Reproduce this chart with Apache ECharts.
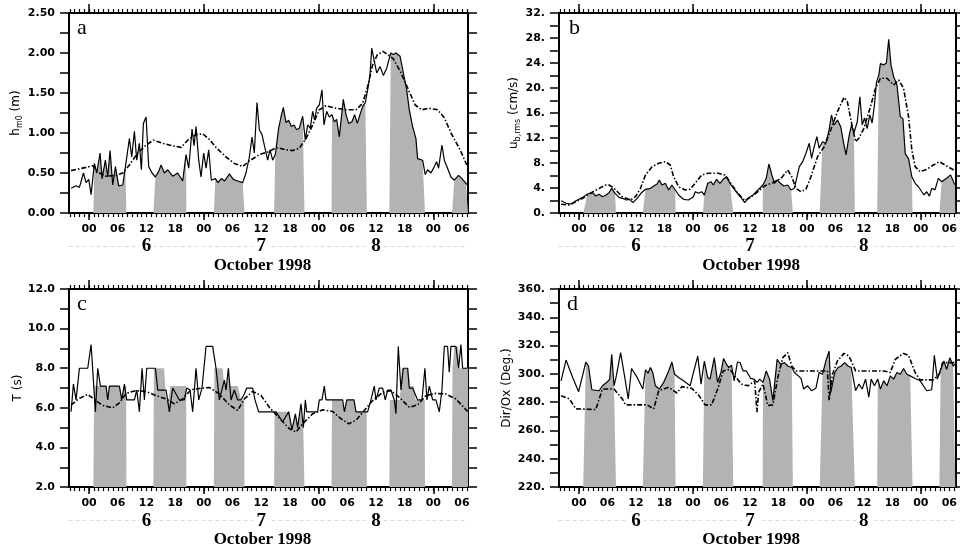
<!DOCTYPE html>
<html>
<head>
<meta charset="utf-8">
<script src="https://cdn.jsdelivr.net/npm/echarts@6.0.0/dist/echarts.min.js"></script>
<style>
  html, body { margin: 0; padding: 0; background: #fff; }
  #chart { width: 960px; height: 549px; }
</style>
</head>
<body>
<div id="chart"></div>
<script>
// time in hours from 6 Oct 1998 00:00
var hourTicks = [];
for (var t = -4; t <= 79; t++) hourTicks.push(t);
var sixHourTicks = [0, 6, 12, 18, 24, 30, 36, 42, 48, 54, 60, 66, 72, 78];
var dayTicks = [0, 24, 48, 72];
var noonTicks = [12, 36, 60];
var dayNames = { 12: '6', 36: '7', 60: '8' };

// periods shaded grey
var windows = [[0.9, 7.8], [13.45, 20.35], [26.1, 32.5], [38.7, 45.05], [50.7, 58.1], [62.8, 70.25], [75.9, 79.25]];

// a: hm0 (m)
var aSolid = [[-3.76,0.31],[-2.72,0.34],[-2.02,0.32],[-1.18,0.50],[-0.63,0.38],[-0.07,0.42],[0.42,0.23],[1.11,0.62],[1.60,0.50],[2.30,0.75],[2.72,0.43],[3.41,0.66],[3.90,0.45],[4.39,0.78],[4.95,0.35],[5.51,0.58],[6.20,0.34],[7.04,0.35],[7.60,0.58],[8.43,0.93],[8.92,0.70],[9.48,1.02],[9.97,0.66],[10.52,0.87],[10.94,0.54],[11.36,1.12],[11.92,1.20],[12.47,0.58],[13.17,0.50],[13.87,0.45],[14.56,0.52],[15.05,0.60],[15.75,0.50],[16.45,0.54],[17.49,0.46],[18.54,0.50],[19.58,0.40],[20.28,0.73],[20.84,0.56],[21.53,1.05],[21.95,0.84],[22.37,1.08],[22.93,0.66],[23.41,0.45],[23.97,0.75],[24.46,0.56],[25.02,0.79],[25.57,0.41],[26.41,0.43],[26.97,0.38],[27.67,0.43],[28.36,0.40],[29.34,0.49],[30.17,0.42],[31.08,0.40],[32.13,0.38],[32.82,0.50],[33.52,0.70],[34.08,0.95],[34.56,0.75],[35.12,1.38],[35.61,1.04],[36.17,0.98],[36.72,0.83],[37.35,0.66],[37.84,0.79],[38.40,0.66],[38.95,0.73],[39.65,1.06],[40.14,1.20],[40.63,1.32],[41.18,1.13],[41.74,1.16],[42.30,1.08],[42.86,1.10],[43.41,1.04],[43.97,1.06],[44.67,1.21],[45.23,0.91],[45.71,1.10],[46.27,1.06],[46.76,1.27],[47.18,1.16],[47.60,1.31],[48.15,1.35],[48.71,1.54],[49.13,1.10],[49.69,1.27],[50.24,1.20],[50.80,1.23],[51.29,1.14],[51.78,1.17],[52.33,0.95],[53.17,1.42],[53.73,1.23],[54.29,1.12],[54.98,1.14],[55.54,1.23],[56.10,1.12],[56.66,1.23],[57.21,1.33],[57.77,1.38],[58.26,1.54],[58.75,1.72],[59.11,2.06],[60.16,1.75],[60.85,1.83],[61.55,1.72],[62.25,1.81],[63.09,2.00],[63.64,1.98],[64.20,2.00],[65.04,1.96],[65.73,1.75],[66.43,1.54],[66.97,1.29],[67.67,1.08],[68.36,0.93],[68.71,0.68],[69.76,0.66],[70.31,0.48],[70.80,0.54],[71.50,0.50],[72.20,0.58],[72.68,0.64],[73.10,0.56],[73.80,0.85],[74.29,0.66],[74.77,0.59],[75.68,0.45],[76.38,0.41],[77.28,0.47],[77.98,0.43],[78.82,0.37],[79.16,0.35]];
var aDash = [[-3.76,0.53],[-0.63,0.57],[0.77,0.59],[2.16,0.50],[3.55,0.46],[5.64,0.47],[7.04,0.50],[8.43,0.60],[10.17,0.75],[11.92,0.85],[13.45,0.91],[15.40,0.87],[17.49,0.84],[19.23,0.82],[20.63,0.91],[22.37,0.98],[23.76,0.99],[25.16,0.92],[26.55,0.82],[28.64,0.70],[30.38,0.62],[32.13,0.58],[33.52,0.65],[35.61,0.73],[37.70,0.77],[39.23,0.82],[41.18,0.79],[42.58,0.78],[43.97,0.81],[45.37,0.93],[46.76,1.10],[48.15,1.29],[49.55,1.34],[51.64,1.31],[53.73,1.29],[55.82,1.29],[57.21,1.37],[58.26,1.58],[59.30,1.85],[60.30,1.98],[61.50,2.02],[63.60,1.93],[65.00,1.78],[66.80,1.54],[68.20,1.35],[69.60,1.29],[71.00,1.31],[72.90,1.29],[74.30,1.19],[75.70,1.00],[77.60,0.79],[79.00,0.60]];

// b: ub,rms (cm/s)
var bSolid = [[-3.76,1.97],[-2.72,1.55],[-1.67,1.44],[-0.63,1.97],[0.77,2.5],[1.81,3.04],[2.86,3.25],[3.55,2.72],[4.25,2.99],[4.95,2.61],[5.64,2.83],[6.34,3.25],[6.90,3.95],[7.60,3.15],[8.43,2.5],[9.13,2.35],[9.97,2.08],[10.66,2.19],[11.36,1.65],[12.26,2.35],[13.17,3.25],[14.01,3.79],[15.05,3.95],[15.75,4.32],[16.45,4.64],[16.93,5.28],[17.49,4.48],[18.19,4.75],[18.89,3.68],[19.58,4.48],[20.28,3.68],[20.98,2.88],[22.02,2.19],[23.07,2.08],[24.11,2.61],[24.46,3.41],[25.16,3.15],[25.85,3.41],[26.41,2.88],[27.11,4.75],[27.80,5.01],[28.29,4.48],[28.99,5.39],[29.69,4.75],[30.38,5.39],[31.08,5.81],[31.78,4.75],[32.82,3.68],[33.87,2.72],[34.91,1.65],[35.61,2.35],[36.66,2.88],[37.70,3.68],[38.75,4.48],[39.44,5.55],[40.00,7.84],[40.63,6.08],[41.18,4.75],[41.74,5.28],[42.44,4.75],[43.14,4.32],[43.97,4.48],[44.67,3.68],[45.37,3.95],[45.92,5.81],[46.41,7.41],[47.11,8.21],[47.80,9.55],[48.50,11.15],[48.99,8.75],[49.55,10.61],[50.10,12.21],[50.59,10.35],[51.29,11.41],[51.99,11.15],[52.68,13.28],[53.17,15.68],[53.73,14.08],[54.43,14.88],[55.12,13.81],[55.68,11.41],[56.24,9.3],[56.93,12.5],[57.42,14.1],[57.91,12.8],[58.61,14.6],[59.16,18.6],[59.65,14.1],[60.14,15.2],[60.70,13.5],[61.25,15.7],[61.74,14.4],[62.23,17.3],[62.65,20.9],[63.14,22.0],[63.48,23.9],[64.18,23.7],[64.74,24.0],[65.23,27.8],[65.71,23.7],[66.27,21.8],[66.97,20.5],[67.67,15.4],[68.22,15.1],[68.71,9.5],[69.41,8.7],[70.10,5.8],[70.80,4.75],[71.50,4.2],[72.20,3.4],[72.68,2.9],[73.24,3.4],[73.80,2.7],[74.29,3.95],[74.98,3.7],[75.68,5.55],[76.38,5.0],[77.42,5.55],[78.26,6.1],[79.16,4.5]];
var bDash = [[-3.76,1.39],[-2.02,1.28],[-0.63,1.81],[0.77,2.35],[2.16,3.04],[3.90,3.79],[5.64,4.48],[6.34,4.48],[7.39,3.95],[9.13,2.61],[10.87,2.08],[11.92,2.61],[12.96,3.95],[14.01,6.08],[15.40,7.41],[16.79,7.95],[18.19,8.21],[19.23,7.68],[19.93,5.81],[20.98,4.21],[22.37,3.68],[23.41,3.79],[24.46,4.75],[25.85,6.08],[27.25,6.35],[29.34,6.35],[30.73,6.08],[31.78,5.01],[33.17,3.41],[34.91,1.97],[36.31,2.61],[37.70,3.41],[39.09,4.32],[40.84,4.85],[42.58,5.55],[43.97,6.88],[44.81,5.81],[45.71,3.95],[46.76,3.41],[47.80,3.79],[48.85,5.81],[50.24,9.01],[51.64,10.61],[53.03,13.28],[54.43,16.21],[55.82,18.51],[56.52,17.81],[57.56,13.81],[58.26,11.41],[58.95,11.95],[60.00,13.55],[61.39,17.01],[62.44,19.95],[63.48,21.55],[64.88,21.55],[66.27,20.48],[67.32,21.28],[68.36,19.95],[69.41,15.41],[70.10,10.08],[70.80,7.41],[71.85,6.61],[73.24,6.99],[74.63,7.68],[75.89,8.21],[77.07,7.68],[79.16,6.77]];

// c: T (s)
var cSolid = [[-3.76,5.8],[-3.28,7.2],[-2.72,6.4],[-2.02,8.0],[-0.28,8.0],[0.42,9.2],[1.32,5.8],[1.81,8.0],[2.37,7.1],[3.55,7.1],[3.90,6.4],[4.25,7.1],[6.34,7.1],[6.83,6.4],[7.39,7.2],[7.87,6.4],[9.48,6.4],[9.97,6.9],[10.52,5.8],[11.08,8.0],[11.57,6.4],[12.06,8.0],[13.87,8.0],[14.36,6.9],[16.10,6.9],[16.79,5.8],[17.49,7.0],[18.89,6.4],[19.93,6.4],[20.42,7.0],[21.11,6.9],[21.67,5.8],[22.37,8.0],[22.93,6.4],[23.62,7.0],[24.46,9.1],[25.85,9.1],[26.55,8.0],[27.25,6.4],[28.29,7.4],[28.64,6.9],[29.13,8.0],[29.69,6.4],[30.38,6.9],[31.08,6.4],[31.78,6.4],[32.47,6.7],[32.96,7.0],[34.22,7.0],[34.70,6.4],[35.47,5.8],[39.09,5.8],[40.49,5.3],[41.74,5.8],[42.44,4.9],[43.14,5.7],[43.62,5.0],[44.32,6.2],[44.81,5.0],[45.23,6.4],[45.51,5.8],[47.80,5.8],[48.15,6.4],[48.71,6.4],[49.20,7.1],[49.55,6.4],[53.03,6.4],[53.40,5.8],[53.90,6.4],[55.40,6.4],[55.82,5.8],[58.26,5.8],[58.95,6.4],[59.65,7.1],[60.00,6.4],[60.70,7.0],[61.39,7.0],[61.95,6.4],[62.44,6.9],[63.14,6.9],[63.83,6.4],[64.18,5.7],[64.67,9.1],[65.23,6.9],[65.71,8.0],[66.62,8.0],[66.97,7.0],[67.67,7.0],[68.71,6.4],[69.62,6.4],[70.24,8.0],[70.66,6.4],[71.15,7.1],[71.85,6.4],[72.54,6.4],[73.24,5.8],[73.80,6.9],[74.29,9.1],[74.98,9.1],[75.33,7.8],[75.68,9.1],[76.73,9.1],[77.28,8.0],[77.77,9.2],[78.12,8.0],[79.16,8.0]];
var cDash = [[-3.76,6.15],[-2.02,6.48],[-0.28,6.68],[1.11,6.42],[2.86,6.12],[4.95,6.0],[6.34,6.25],[7.74,6.73],[9.83,6.87],[11.92,6.83],[14.01,6.62],[16.10,6.45],[17.84,6.2],[19.58,6.45],[21.32,6.92],[23.07,6.98],[25.16,7.03],[27.25,6.7],[29.34,6.15],[31.08,5.87],[32.47,6.45],[34.22,6.83],[35.96,6.62],[37.70,6.03],[39.79,5.48],[41.88,4.95],[43.28,4.78],[44.67,5.2],[46.76,5.7],[48.85,5.9],[50.94,5.82],[52.68,5.45],[54.29,5.2],[55.82,5.37],[57.56,5.87],[59.30,6.37],[61.39,6.78],[63.14,6.87],[64.88,6.53],[66.97,6.03],[68.71,6.15],[70.45,6.62],[72.54,6.73],[74.63,6.7],[76.73,6.45],[79.16,5.82]];
var cGray = [[0.9,2],[1.05,7.1],[3.55,7.1],[3.9,6.4],[4.25,7.1],[6.34,7.1],[6.83,6.4],[7.3,7.1],[7.75,7.1],[7.8,2],
  [13.45,2],[13.55,8.0],[15.7,8.0],[16.1,6.4],[16.6,6.4],[17.0,7.1],[19.6,7.1],[20.3,7.1],[20.35,2],
  [26.1,2],[26.2,8.0],[27.9,8.0],[28.3,7.1],[28.8,7.1],[29.1,8.0],[29.4,7.1],[31.1,7.1],[31.8,6.4],[32.45,6.4],[32.5,2],
  [38.7,2],[38.8,5.8],[42.0,5.8],[42.4,4.9],[43.1,5.7],[43.6,5.0],[44.3,5.8],[44.8,5.0],[45.0,5.0],[45.05,2],
  [50.7,2],[50.8,6.4],[52.8,6.4],[53.4,5.8],[53.9,6.4],[55.4,6.4],[55.9,5.8],[58.05,5.8],[58.1,2],
  [62.8,2],[62.9,6.4],[65.0,6.4],[65.4,8.0],[66.8,8.0],[67.1,7.1],[67.9,7.1],[68.3,6.4],[70.2,6.4],[70.25,2],
  [75.9,2],[76.0,8.0],[76.4,9.1],[77.2,9.1],[77.4,8.0],[79.25,8.0]];

// d: Dir/Ox (Deg.)
var dSolid = [[-3.76,295.1],[-2.72,309.8],[-1.32,297.5],[-0.07,287.4],[1.46,308.4],[2.02,305.6],[2.72,288.8],[4.25,288.1],[4.95,291.6],[5.99,294.4],[6.48,296.3],[6.90,313.8],[7.39,291.6],[7.87,298.6],[8.78,315.0],[9.48,301.0],[10.38,282.3],[11.08,303.8],[12.26,297.5],[13.45,289.3],[14.01,302.8],[14.56,300.5],[15.05,304.5],[15.54,301.0],[16.10,291.6],[16.93,289.3],[17.84,294.0],[18.89,302.1],[19.58,308.4],[20.14,299.8],[20.98,297.5],[22.02,295.1],[23.41,291.6],[24.11,301.0],[25.02,312.6],[25.71,292.8],[26.41,309.1],[27.11,297.5],[27.60,296.3],[28.50,311.5],[29.20,294.0],[29.90,301.0],[30.45,310.8],[31.08,306.8],[31.57,304.5],[32.13,306.1],[32.68,295.1],[33.38,308.4],[33.94,308.0],[34.56,302.1],[35.26,302.1],[36.17,296.8],[36.86,296.3],[37.56,294.0],[38.05,296.3],[38.75,294.0],[39.44,302.1],[40.14,296.3],[40.84,281.1],[41.74,310.3],[42.44,306.8],[43.28,308.0],[43.97,305.6],[44.81,304.5],[45.37,301.0],[46.20,298.6],[46.76,296.8],[47.32,289.3],[48.15,291.6],[48.99,288.1],[49.90,289.8],[50.59,301.0],[51.29,299.8],[51.99,309.1],[52.68,316.1],[53.03,287.0],[53.87,301.0],[54.56,304.5],[55.26,305.6],[55.96,308.0],[56.66,305.6],[57.35,304.5],[58.26,288.1],[58.95,292.8],[59.65,289.3],[60.35,296.3],[61.04,283.5],[61.53,296.3],[62.23,291.6],[62.93,296.3],[63.48,289.3],[64.18,295.1],[64.88,291.6],[65.57,298.6],[66.27,296.3],[66.97,301.0],[67.67,299.8],[68.36,303.8],[69.06,299.8],[69.76,298.6],[70.80,296.8],[71.85,295.1],[73.24,288.1],[74.29,288.8],[74.84,313.1],[75.47,296.3],[76.17,303.3],[76.86,309.1],[77.42,303.3],[78.12,311.5],[78.82,305.6],[79.16,306.8]];
var dDash = [[-3.76,284.6],[-2.02,282.3],[-0.63,275.3],[3.55,274.8],[4.95,289.3],[7.39,289.3],[9.13,282.3],[9.83,278.1],[14.36,278.1],[15.75,275.3],[16.79,288.1],[18.89,290.5],[20.63,286.5],[21.67,291.0],[23.76,289.8],[25.30,284.6],[26.55,278.1],[27.94,278.1],[29.34,290.5],[30.38,302.1],[31.78,303.3],[32.82,298.6],[34.22,292.8],[35.61,291.6],[37.00,295.1],[37.49,273.0],[37.84,287.0],[38.75,292.8],[39.79,277.6],[40.84,278.1],[41.88,297.5],[42.93,311.5],[43.97,315.0],[44.81,305.6],[45.71,302.1],[52.33,302.1],[52.68,281.1],[53.38,299.8],[54.43,309.1],[55.82,314.5],[56.86,312.6],[58.26,302.1],[64.18,302.1],[65.57,301.0],[66.62,310.3],[68.36,314.5],[69.41,313.1],[70.80,301.0],[71.85,295.8],[74.63,295.8],[75.89,299.8],[76.59,308.0],[79.16,308.0]];

var XMIN = -4.2, XMAX = 79.25;
var SANS = 'DejaVu Sans', SERIF = 'Liberation Serif';
var GRAY = '#b3b3b3';

// grey area follows the solid curve inside each window
function grayFrom(solid, base) {
  var out = [];
  windows.forEach(function (w) {
    out.push([w[0], base]);
    solid.forEach(function (p) { if (p[0] > w[0] && p[0] < w[1]) out.push(p); });
    out.push([w[1], base]);
  });
  return out;
}

var nameRich = {
  n: { fontFamily: SANS, fontSize: 12, lineHeight: 16, color: '#000' },
  s: { fontFamily: SANS, fontSize: 8, lineHeight: 10, verticalAlign: 'bottom', color: '#000' }
};

var panels = [
  { left: 69, top: 13, min: 0, max: 2.5, step: 0.25, lab: 0.5, fmt: function (v) { return v.toFixed(2); },
    name: '{n|h}{s|m0}{n| (m)}', gap: 42, solid: aSolid, dash: aDash, gray: grayFrom(aSolid, 0), letter: 'a', lx: 77 },
  { left: 559, top: 13, min: 0, max: 32, step: 2, lab: 4, fmt: function (v) { return v + '.'; },
    name: '{n|u}{s|b,rms}{n| (cm/s)}', gap: 37, solid: bSolid, dash: bDash, gray: grayFrom(bSolid, 0), letter: 'b', lx: 569 },
  { left: 69, top: 289, min: 2, max: 12, step: 1, lab: 2, fmt: function (v) { return v.toFixed(1); },
    name: '{n|T (s)}', gap: 42, solid: cSolid, dash: cDash, gray: cGray, letter: 'c', lx: 77 },
  { left: 559, top: 289, min: 220, max: 360, step: 10, lab: 20, fmt: function (v) { return v + '.'; },
    name: '{n|Dir/Ox (Deg.)}', gap: 44, solid: dSolid, dash: dDash, gray: grayFrom(dSolid, 220), letter: 'd', lx: 567 }
];

var grids = [], xAxes = [], yAxes = [], series = [], graphics = [];
var blackLine = { show: true, onZero: false, lineStyle: { color: '#000', width: 2 } };
var noLine = { show: false, onZero: false };

panels.forEach(function (p, i) {
  grids.push({ left: p.left, top: p.top, width: 399, height: 200, show: false });
  var base = { type: 'value', gridIndex: i, min: XMIN, max: XMAX, splitLine: { show: false } };
  // bottom: hourly ticks + hour labels
  xAxes.push(Object.assign({}, base, {
    position: 'bottom', axisLine: blackLine,
    axisTick: { show: true, customValues: hourTicks, length: 4, lineStyle: { color: '#000', width: 1.2 } },
    axisLabel: { show: true, customValues: sixHourTicks, margin: 11, color: '#000', fontFamily: SANS, fontWeight: 'bold', fontSize: 11,
      formatter: function (v) { var h = ((Math.round(v) % 24) + 24) % 24; return (h < 10 ? '0' : '') + h; } }
  }));
  // bottom: longer ticks at midnight
  xAxes.push(Object.assign({}, base, {
    position: 'bottom', axisLine: noLine,
    axisTick: { show: true, customValues: dayTicks, length: 7, lineStyle: { color: '#000', width: 1.5 } },
    axisLabel: { show: false }
  }));
  // top
  xAxes.push(Object.assign({}, base, {
    position: 'top', axisLine: blackLine,
    axisTick: { show: true, customValues: hourTicks, length: 4, lineStyle: { color: '#000', width: 1.2 } },
    axisLabel: { show: false }
  }));
  xAxes.push(Object.assign({}, base, {
    position: 'top', axisLine: noLine,
    axisTick: { show: true, customValues: dayTicks, length: 9, lineStyle: { color: '#000', width: 1.5 } },
    axisLabel: { show: false }
  }));
  // day numbers and month
  xAxes.push(Object.assign({}, base, {
    position: 'bottom', offset: 33,
    axisLine: { show: true, onZero: false, lineStyle: { color: '#dadada', width: 1, type: [3, 4] } },
    axisTick: { show: false },
    axisLabel: { show: true, customValues: noonTicks, margin: -9, color: '#000', fontFamily: SERIF, fontWeight: 'bold', fontSize: 19,
      backgroundColor: '#fff', padding: [0, 3], formatter: function (v) { return dayNames[Math.round(v)]; } },
    name: 'October 1998', nameLocation: 'middle', nameGap: 6,
    nameTextStyle: { color: '#000', fontFamily: SERIF, fontWeight: 'bold', fontSize: 17, padding: [0, 12, 0, 0] }
  }));

  var ybase = { type: 'value', gridIndex: i, min: p.min, max: p.max, interval: p.step, splitLine: { show: false } };
  yAxes.push(Object.assign({}, ybase, {
    position: 'left', axisLine: blackLine,
    axisTick: { show: true, length: 9, lineStyle: { color: '#000', width: 1.5 } },
    axisLabel: { show: true, margin: 14, color: '#000', fontFamily: SANS, fontWeight: 'bold', fontSize: 11,
      formatter: function (v) { var k = (v - p.min) / p.lab; return Math.abs(k - Math.round(k)) < 1e-6 ? p.fmt(v) : ''; } },
    name: p.name, nameLocation: 'middle', nameRotate: 90, nameGap: p.gap,
    nameTextStyle: { rich: nameRich }
  }));
  yAxes.push(Object.assign({}, ybase, {
    position: 'right', axisLine: blackLine,
    axisTick: { show: true, length: 9, lineStyle: { color: '#000', width: 1.5 } },
    axisLabel: { show: false }
  }));

  var xi = i * 5, yi = i * 2;
  series.push({ type: 'line', xAxisIndex: xi, yAxisIndex: yi, data: p.gray, symbol: 'none', z: 1, silent: true,
    lineStyle: { width: 0 }, areaStyle: { color: GRAY, opacity: 1, origin: 'start' } });
  series.push({ type: 'line', xAxisIndex: xi, yAxisIndex: yi, data: p.dash, symbol: 'none', z: 3,
    lineStyle: { color: '#000', width: 1.6, type: [5, 2, 1.5, 2] } });
  series.push({ type: 'line', xAxisIndex: xi, yAxisIndex: yi, data: p.solid, symbol: 'none', z: 4,
    lineStyle: { color: '#000', width: 1.2 } });

  graphics.push({ type: 'text', left: p.lx, top: p.top + 4, z: 10,
    style: { text: p.letter, font: '22px "Liberation Serif"', fill: '#000' } });
});

var chart = echarts.init(document.getElementById('chart'));
chart.setOption({
  animation: false,
  backgroundColor: '#fff',
  grid: grids,
  xAxis: xAxes,
  yAxis: yAxes,
  series: series,
  graphic: graphics
});
</script>
</body>
</html>
